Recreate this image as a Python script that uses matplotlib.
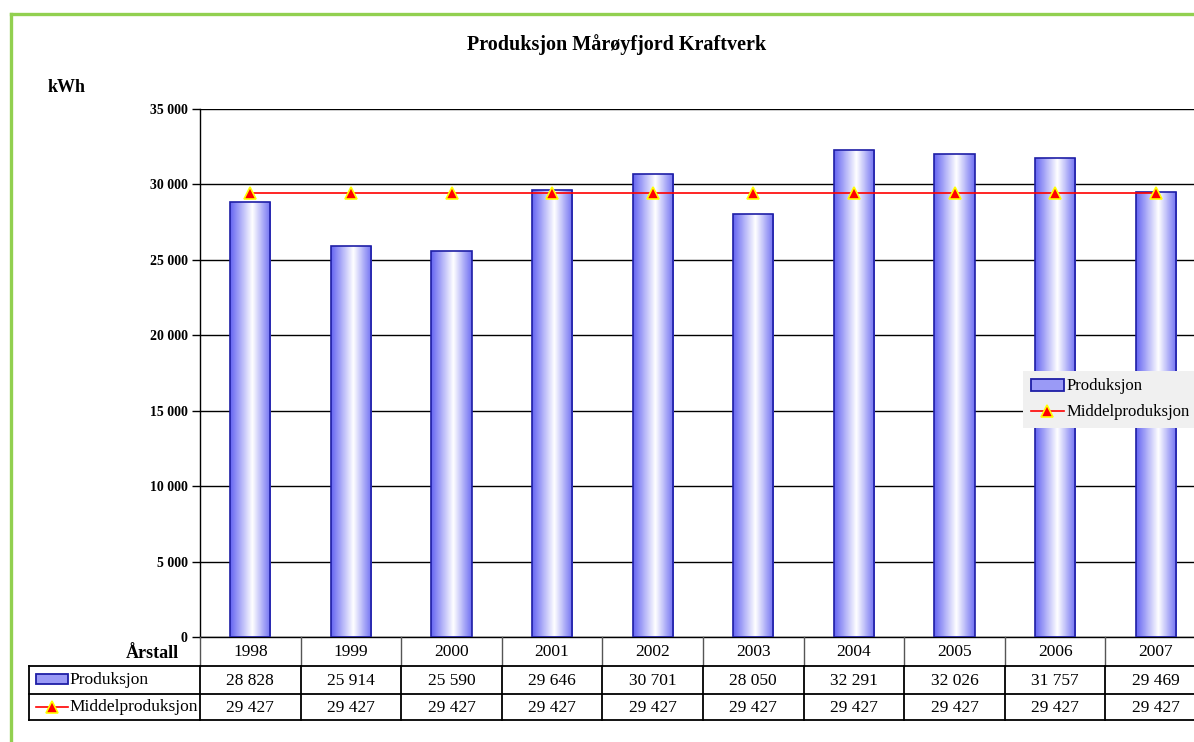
import numpy as np
import matplotlib.pyplot as plt
import matplotlib.transforms as mtransforms
from matplotlib.patches import Rectangle
from matplotlib.lines import Line2D
from matplotlib.colors import LinearSegmentedColormap

plt.rcParams['font.family'] = ['Liberation Serif', 'DejaVu Serif']

years = [1998, 1999, 2000, 2001, 2002, 2003, 2004, 2005, 2006, 2007]
produksjon = [28828, 25914, 25590, 29646, 30701, 28050, 32291, 32026, 31757, 29469]
middel = [29427, 29427, 29427, 29427, 29427, 29427, 29427, 29427, 29427, 29427]
yticks = [0, 5000, 10000, 15000, 20000, 25000, 30000, 35000]


def fmt(v):
    return f"{v:,}".replace(",", " ")


W, H = 1194, 742
fig = plt.figure(figsize=(11.94, 7.42), dpi=100)


def fx(px):
    return px / W


def fy(py):
    return 1 - py / H


ax = fig.add_axes([fx(200), fy(637), fx(1206) - fx(200), fy(109) - fy(637)])
x = np.arange(len(years))

# bars with horizontal gradient
grad = LinearSegmentedColormap.from_list(
    'bargrad', [(0, '#6666f2'), (0.55, '#ffffff'), (1, '#7070f2')])
gimg = np.linspace(0, 1, 64).reshape(1, -1)
bars = ax.bar(x, produksjon, width=0.4, facecolor='none', edgecolor='#1e1ea6',
              linewidth=1.2, zorder=3)
for b in bars:
    im = ax.imshow(gimg, cmap=grad, aspect='auto', zorder=2.5,
                   extent=[b.get_x(), b.get_x() + b.get_width(), 0, b.get_height()])
    im.set_clip_path(b)

ax.plot(x, middel, color='red', lw=1.2, marker='^', ms=8, mfc='red',
        mec='yellow', mew=1.2, zorder=4)

ax.set_xlim(-0.5, 9.5)
ax.set_ylim(0, 35000)
ax.set_yticks(yticks)
ax.set_yticklabels([fmt(v) for v in yticks], fontweight='bold', fontsize=10)
ax.tick_params(axis='y', length=6, width=1, direction='out', pad=3)
ax.tick_params(axis='x', length=0, labelbottom=False)
ax.yaxis.grid(True, color='black', lw=1)
ax.set_axisbelow(True)
for s in ['top', 'right']:
    ax.spines[s].set_visible(False)
ax.spines['left'].set_linewidth(1)
ax.spines['bottom'].set_linewidth(1)

# title and labels
fig.text(fx(617), fy(45), 'Produksjon Mårøyfjord Kraftverk', ha='center', va='center',
         fontweight='bold', fontsize=14.5)
fig.text(fx(48), fy(88), 'kWh', ha='left', va='center', fontweight='bold', fontsize=13)
fig.text(fx(179), fy(653), 'Årstall', ha='right', va='center', fontweight='bold', fontsize=13)

# data table under the axis
trans = mtransforms.blended_transform_factory(ax.transData, fig.transFigure)
for i in range(len(years)):
    fig.text(x[i], fy(652), str(years[i]), transform=trans, ha='center', va='center', fontsize=12.5)
    fig.text(x[i], fy(681), fmt(produksjon[i]), transform=trans, ha='center', va='center', fontsize=12.5)
    fig.text(x[i], fy(708), fmt(middel[i]), transform=trans, ha='center', va='center', fontsize=12.5)

for k in range(len(years) + 1):
    xb = k - 0.5
    fig.add_artist(Line2D([xb, xb], [fy(637), fy(666)], transform=trans, color='#555555', lw=1))
    fig.add_artist(Line2D([xb, xb], [fy(666), fy(720)], transform=trans, color='black', lw=1.3))
for yy in [666, 694, 720]:
    fig.add_artist(Line2D([fx(29), 1.02], [fy(yy), fy(yy)], transform=fig.transFigure,
                          color='black', lw=1.3))
fig.add_artist(Line2D([fx(29), fx(29)], [fy(666), fy(720)], transform=fig.transFigure,
                      color='black', lw=1.3))

fig.add_artist(Rectangle((fx(36), fy(684)), fx(68) - fx(36), fy(674) - fy(684),
                         transform=fig.transFigure, facecolor='#9a9af6', edgecolor='#1e1ea6', lw=1.3))
fig.text(fx(69), fy(680), 'Produksjon', ha='left', va='center', fontsize=12.5)
fig.add_artist(Line2D([fx(36), fx(68)], [fy(707), fy(707)], transform=fig.transFigure,
                      color='red', lw=1.2))
fig.add_artist(Line2D([fx(52)], [fy(707)], transform=fig.transFigure, marker='^', ms=8,
                      mfc='red', mec='yellow', mew=1.2, ls='none'))
fig.text(fx(69), fy(707), 'Middelproduksjon', ha='left', va='center', fontsize=12.5)

# legend
handles = [Rectangle((0, 0), 1, 1, facecolor='#9a9af6', edgecolor='#1e1ea6', lw=1.3),
           Line2D([], [], color='red', lw=1.2, marker='^', ms=8, mfc='red', mec='yellow', mew=1.2)]
fig.legend(handles, ['Produksjon', 'Middelproduksjon'], loc='upper left',
           bbox_to_anchor=(fx(1023), fy(371)), frameon=True, facecolor='#f0f0f0',
           edgecolor='none', fancybox=False, framealpha=1, fontsize=12,
           borderaxespad=0, handlelength=2.0, handletextpad=0.15, labelspacing=0.6,
           borderpad=0.45)

# green frame
fig.add_artist(Line2D([fx(11), fx(11)], [fy(14), -0.1], transform=fig.transFigure,
                      color='#92d050', lw=2.4))
fig.add_artist(Line2D([fx(11), 1.1], [fy(14), fy(14)], transform=fig.transFigure,
                      color='#92d050', lw=2.4))

fig.savefig('out.png', dpi=100)
